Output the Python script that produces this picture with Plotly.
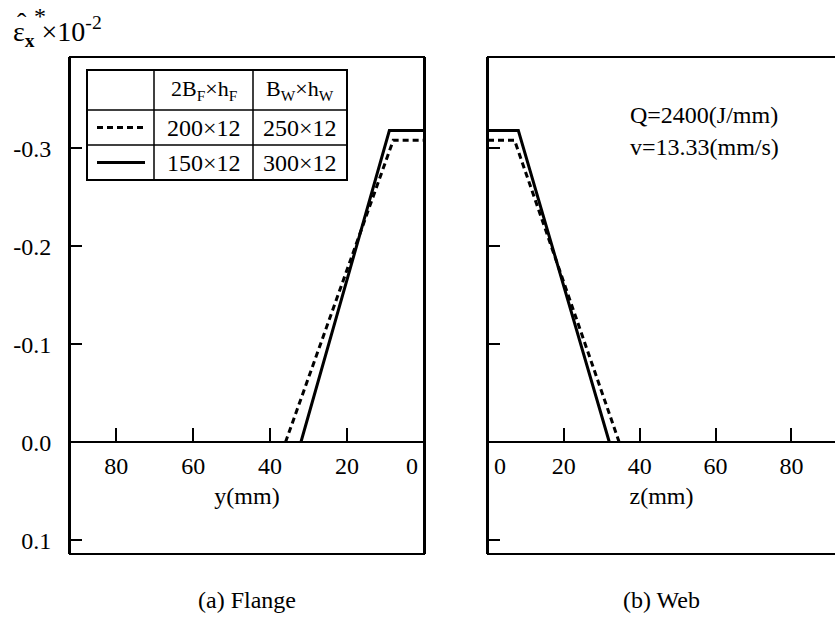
import plotly.graph_objects as go

W, H = 835, 621
def px(x): return x / W
def py(y): return 1 - y / H

# ---------------- data ----------------
flange_y_dashed = [36, 8, 0]
flange_e_dashed = [0.0, -0.308, -0.308]
flange_y_solid = [32, 9, 0]
flange_e_solid = [0.0, -0.318, -0.318]

web_z_dashed = [0, 7, 34.6]
web_e_dashed = [-0.308, -0.308, 0.0]
web_z_solid = [0, 8, 32]
web_e_solid = [-0.318, -0.318, 0.0]

y_tickvals = [-0.3, -0.2, -0.1, 0.0, 0.1]
y_ticktext = ['-0.3', '-0.2', '-0.1', '0.0', '0.1']
flange_xticks = [80, 60, 40, 20, 0]
web_xticks = [0, 20, 40, 60, 80]
legend_header = ['2B<sub>F</sub>×h<sub>F</sub>', 'B<sub>W</sub>×h<sub>W</sub>']
legend_rows = [['200×12', '250×12'], ['150×12', '300×12']]
legend_dash = ['6px,4px', 'solid']
conditions = ['Q=2400(J/mm)', 'v=13.33(mm/s)']
captions = ['(a) Flange', '(b) Web']

FONT = 'Liberation Serif'
FS = 24
NB = '\u00a0'

# geometry (pixels)
L_X0, L_X1 = 70, 424
R_X0, R_X1 = 488, 835
P_Y0, P_Y1 = 57, 554
yrange = [0.114, -0.393]
left_xrange = [92, 0]
right_xrange = [0, 91.5]

ydom = [py(P_Y1), py(P_Y0)]
zero_pos = ydom[0] + (0 - yrange[0]) / (yrange[1] - yrange[0]) * (ydom[1] - ydom[0])

fig = go.Figure()
line_w = 3
fig.add_trace(go.Scatter(x=flange_y_dashed, y=flange_e_dashed, mode='lines',
                         line=dict(color='black', width=line_w, dash=legend_dash[0]),
                         xaxis='x', yaxis='y', showlegend=False))
fig.add_trace(go.Scatter(x=flange_y_solid, y=flange_e_solid, mode='lines',
                         line=dict(color='black', width=line_w, dash=legend_dash[1]),
                         xaxis='x', yaxis='y', showlegend=False))
fig.add_trace(go.Scatter(x=web_z_dashed, y=web_e_dashed, mode='lines',
                         line=dict(color='black', width=line_w, dash=legend_dash[0]),
                         xaxis='x2', yaxis='y2', showlegend=False))
fig.add_trace(go.Scatter(x=web_z_solid, y=web_e_solid, mode='lines',
                         line=dict(color='black', width=line_w, dash=legend_dash[1]),
                         xaxis='x2', yaxis='y2', showlegend=False))

xcommon = dict(anchor='free', position=zero_pos, ticks='inside', ticklen=13, tickwidth=2,
               tickcolor='black', showline=True, linewidth=2, linecolor='black',
               showgrid=False, zeroline=False, ticklabelstandoff=2, automargin=False,
               tickfont=dict(family=FONT, size=FS, color='black'))
ycommon = dict(range=yrange, domain=ydom, tickvals=y_tickvals, ticks='inside', ticklen=12,
               tickwidth=2, tickcolor='black', showline=True, linewidth=2, linecolor='black',
               showgrid=False, zeroline=False, automargin=False,
               tickfont=dict(family=FONT, size=FS, color='black'))

fig.update_layout(
    width=W, height=H, margin=dict(l=0, r=0, t=0, b=0, autoexpand=False),
    paper_bgcolor='white', plot_bgcolor='white', showlegend=False,
    font=dict(family=FONT, size=FS, color='black'),
    xaxis=dict(domain=[px(L_X0), px(L_X1)], range=left_xrange, tickvals=flange_xticks,
               ticktext=[str(v) for v in flange_xticks[:-1]] + ['0' + NB * 4],
               title=dict(text='y(mm)', standoff=8, font=dict(family=FONT, size=FS)),
               **xcommon),
    yaxis=dict(anchor='x', ticktext=y_ticktext, showticklabels=True, mirror=True,
               ticklabelstandoff=12, **ycommon),
    xaxis2=dict(domain=[px(R_X0), px(R_X1)], range=right_xrange, tickvals=web_xticks,
                ticktext=[NB * 4 + '0'] + [str(v) for v in web_xticks[1:]],
                title=dict(text='z(mm)', standoff=8, font=dict(family=FONT, size=FS)),
                **xcommon),
    yaxis2=dict(anchor='x2', showticklabels=False, mirror=False, **ycommon),
)

shapes = []
# panel frames
shapes.append(dict(type='rect', xref='x domain', yref='y domain', x0=0, x1=1, y0=0, y1=1,
                   line=dict(color='black', width=2)))
shapes.append(dict(type='rect', xref='x2 domain', yref='y2 domain', x0=0, x1=1.05, y0=0, y1=1,
                   line=dict(color='black', width=2)))

# legend table
TX = [87, 154, 253, 347]
TY = [70, 110, 145, 180]
shapes.append(dict(type='rect', xref='paper', yref='paper', x0=px(TX[0]), x1=px(TX[3]),
                   y0=py(TY[3]), y1=py(TY[0]), line=dict(color='black', width=2),
                   fillcolor='white', layer='above'))
for xv in TX[1:3]:
    shapes.append(dict(type='line', xref='paper', yref='paper', x0=px(xv), x1=px(xv),
                       y0=py(TY[3]), y1=py(TY[0]), line=dict(color='black', width=1.5)))
for yv in TY[1:3]:
    shapes.append(dict(type='line', xref='paper', yref='paper', x0=px(TX[0]), x1=px(TX[3]),
                       y0=py(yv), y1=py(yv), line=dict(color='black', width=1.5)))
for i, d in enumerate(legend_dash):
    yc = (TY[i + 1] + TY[i + 2]) / 2
    shapes.append(dict(type='line', xref='paper', yref='paper', x0=px(97), x1=px(145),
                       y0=py(yc), y1=py(yc), line=dict(color='black', width=3, dash=d)))

annotations = []
colc = [(TX[1] + TX[2]) / 2, (TX[2] + TX[3]) / 2]
for j, t in enumerate(legend_header):
    annotations.append(dict(text=t, x=px(colc[j]), y=py((TY[0] + TY[1]) / 2), xref='paper',
                            yref='paper', showarrow=False, xanchor='center', yanchor='middle',
                            font=dict(family=FONT, size=FS - 2)))
for i, row in enumerate(legend_rows):
    for j, t in enumerate(row):
        annotations.append(dict(text=t, x=px(colc[j]), y=py((TY[i + 1] + TY[i + 2]) / 2),
                                xref='paper', yref='paper', showarrow=False, xanchor='center',
                                yanchor='middle', font=dict(family=FONT, size=FS)))

# conditions text
for k, t in enumerate(conditions):
    annotations.append(dict(text=t, x=px(628), y=py(115 + 32 * k), xref='paper', yref='paper',
                            showarrow=False, xanchor='left', yanchor='middle',
                            font=dict(family=FONT, size=FS)))

# y-axis label at top left: epsilon-hat, subscript x, star above, x10^-2
annotations.append(dict(text='ε<sub><b>x</b></sub>' + NB + '×10<sup>-2</sup>', x=px(11), y=py(31),
                        xref='paper', yref='paper', showarrow=False, xanchor='left',
                        yanchor='middle', font=dict(family=FONT, size=FS + 4)))
annotations.append(dict(text='ˆ', x=px(22), y=py(22), xref='paper', yref='paper',
                        showarrow=False, xanchor='center', yanchor='middle',
                        font=dict(family=FONT, size=FS + 4)))
annotations.append(dict(text='*', x=px(40), y=py(16), xref='paper', yref='paper',
                        showarrow=False, xanchor='center', yanchor='middle',
                        font=dict(family=FONT, size=FS)))

# captions
for k, t in enumerate(captions):
    xc = (L_X0 + L_X1) / 2 if k == 0 else (R_X0 + R_X1) / 2
    annotations.append(dict(text=t, x=px(xc), y=py(600), xref='paper', yref='paper',
                            showarrow=False, xanchor='center', yanchor='middle',
                            font=dict(family=FONT, size=FS)))

fig.update_layout(shapes=shapes, annotations=annotations)
fig.write_html('out.html')
